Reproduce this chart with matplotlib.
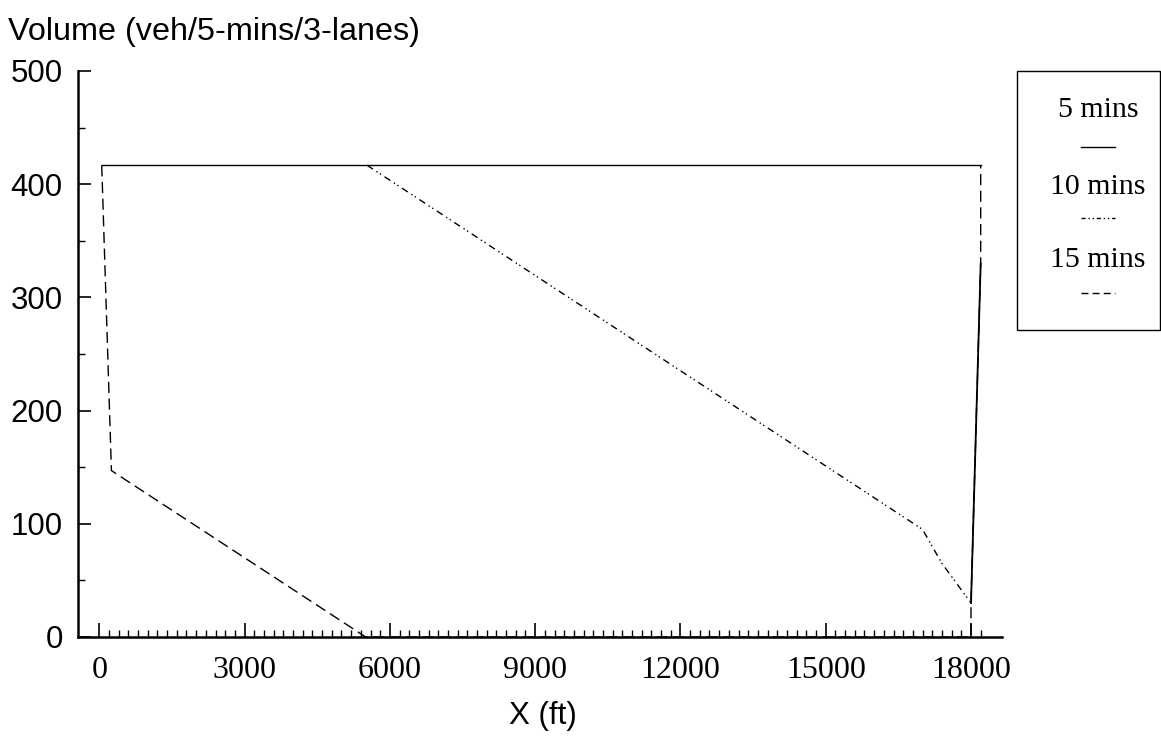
import numpy as np
import matplotlib
matplotlib.use("Agg")
import matplotlib.pyplot as plt
from matplotlib.lines import Line2D
from matplotlib.patches import Rectangle

# Volume profiles along the freeway at three times after the start
CAPACITY = 416.7  # veh / 5 min / 3 lanes

x_5min = [50, 18200]
y_5min = [CAPACITY, CAPACITY]

x_5min_drop = [18200, 18000]
y_5min_drop = [330, 30]

x_10min = [5530, 17000, 17400, 18000]
y_10min = [CAPACITY, 95, 65, 30]

x_15min = [50, 250, 5500, 18000, 18000, 18200, 18200]
y_15min = [CAPACITY, 147, 0, 0, 30, 330, CAPACITY]

x_ticks = [0, 3000, 6000, 9000, 12000, 15000, 18000]
y_ticks = [0, 100, 200, 300, 400, 500]
legend_labels = ["5 mins", "10 mins", "15 mins"]

W, H = 1161, 739
SANS = "Liberation Sans"
SERIF = "Liberation Serif"

fig = plt.figure(figsize=(W / 100, H / 100), dpi=100)
fig.patch.set_facecolor("white")

ax_left, ax_right, ax_top, ax_bottom = 78, 1002, 71, 637
ax = fig.add_axes([ax_left / W, 1 - ax_bottom / H,
                   (ax_right - ax_left) / W, (ax_bottom - ax_top) / H])

lw = 1.0
ax.plot(x_5min, y_5min, color="black", lw=lw, ls="-")
ax.plot(x_5min_drop, y_5min_drop, color="black", lw=1.3, ls="-")
ax.plot(x_10min, y_10min, color="black", lw=lw, ls=(0, (5, 3, 1, 2, 1, 3)))
ax.plot(x_15min, y_15min, color="black", lw=lw, ls=(0, (8, 4)))

ax.set_xlim(-440, 18640)
ax.set_ylim(0, 500)

for side in ("top", "right"):
    ax.spines[side].set_visible(False)
for side in ("left", "bottom"):
    ax.spines[side].set_linewidth(1.8)

ax.set_xticks(x_ticks)
ax.set_xticklabels([str(v) for v in x_ticks], fontfamily=SERIF, fontsize=23)
ax.set_xticks([v for v in range(0, 18201, 200) if v % 3000], minor=True)
ax.set_yticks(y_ticks)
ax.set_yticklabels([str(v) for v in y_ticks], fontfamily=SANS, fontsize=22.5)
ax.set_yticks([50, 150, 250, 350, 450], minor=True)

ax.tick_params(axis="x", which="major", direction="in", length=10, width=1.2, pad=13.5)
ax.tick_params(axis="x", which="minor", direction="in", length=5, width=1.0)
ax.tick_params(axis="y", which="major", direction="in", length=9, width=1.2, pad=11)
ax.tick_params(axis="y", which="minor", direction="in", length=5, width=1.0)

fig.text(8 / W, 1 - 32 / H, "Volume (veh/5-mins/3-lanes)", fontfamily=SANS,
         fontsize=23.3, ha="left", va="center")
fig.text(543 / W, 1 - 716 / H, "X (ft)", fontfamily=SANS, fontsize=22.5,
         ha="center", va="center")

# Legend box with the label above each line sample
box = Rectangle((1017 / W, 1 - 330 / H), (1160 - 1017) / W, (330 - 71) / H,
                transform=fig.transFigure, fill=False, edgecolor="black", lw=1.0)
fig.patches.append(box)

styles = [dict(ls="-", lw=lw),
          dict(ls=(0, (3, 2, 1, 2, 1, 2)), lw=lw),
          dict(ls=(0, (5, 3)), lw=lw)]
label_y = [110, 187, 260]
line_y = [147, 218, 293]
for lab, ty, ly, st in zip(legend_labels, label_y, line_y, styles):
    fig.text(1098 / W, 1 - ty / H, lab, fontfamily=SERIF, fontsize=21.5,
             ha="center", va="center")
    fig.lines.append(Line2D([1081 / W, 1115 / W], [1 - ly / H, 1 - ly / H],
                            transform=fig.transFigure, color="black", **st))

fig.savefig("out.png", dpi=100)
